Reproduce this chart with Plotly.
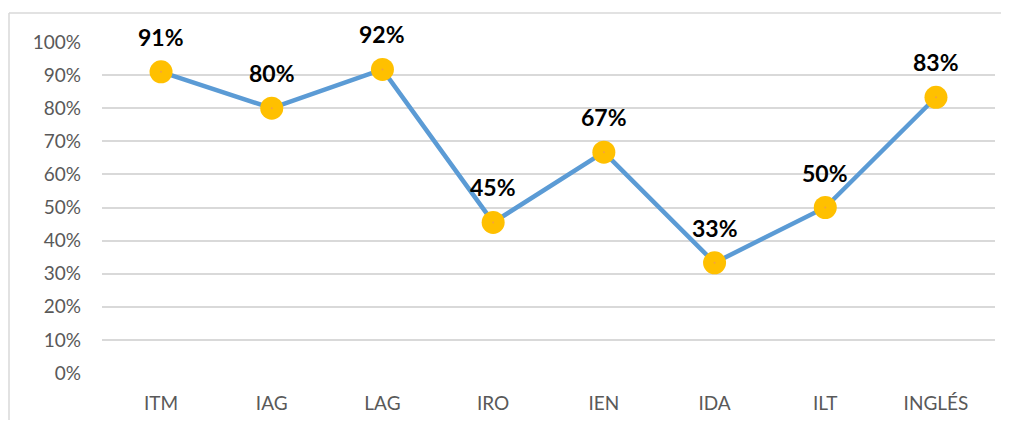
import plotly.graph_objects as go

categories = ["ITM", "IAG", "LAG", "IRO", "IEN", "IDA", "ILT", "INGLÉS"]
values = [0.91, 0.80, 0.917, 0.455, 0.667, 0.333, 0.50, 0.833]
labels = ["91%", "80%", "92%", "45%", "67%", "33%", "50%", "83%"]
y_ticks = [i / 10 for i in range(11)]
y_tick_labels = [f"{i*10}%" for i in range(11)]

# page body has an 8px margin, so the figure is offset by 8px
W, H = 993, 412
L, R, T, B = 94, 6, 34, 42

fig = go.Figure()
fig.add_trace(go.Scatter(
    x=categories, y=values, mode="lines+markers",
    line=dict(color="#5B9BD5", width=4.5),
    marker=dict(color="#FFC000", size=23, line=dict(color="#FFC000", width=0)),
    hoverinfo="skip", showlegend=False,
))
fig.add_trace(go.Scatter(
    x=categories, y=values, mode="markers",
    marker=dict(color="#F4A040", size=2),
    hoverinfo="skip", showlegend=False,
))

for c, v, t in zip(categories, values, labels):
    fig.add_annotation(x=c, y=v, text=f"<b>{t}</b>", showarrow=False,
                       yshift=35, font=dict(family="Lato, Open Sans, sans-serif", size=23, color="#000000"))

pw = W - L - R
ph = H - T - B
bx = (1 - L) / pw
by = (H - 4.5 - B) / ph
fig.add_shape(type="line", xref="paper", yref="paper",
              x0=bx, x1=(W + 20 - L) / pw, y0=by, y1=by,
              line=dict(color="#D9D9D9", width=1.5), layer="below")
fig.add_shape(type="line", xref="paper", yref="paper",
              x0=bx, x1=bx, y0=by, y1=-(B + 20) / ph,
              line=dict(color="#D9D9D9", width=1.5), layer="below")

fig.update_layout(
    width=W, height=H,
    margin=dict(l=L, r=R, t=T, b=B),
    paper_bgcolor="white", plot_bgcolor="white",
    font=dict(family="Lato, Open Sans, sans-serif", size=19, color="#595959"),
    xaxis=dict(showgrid=False, showline=False, zeroline=False, ticks="",
               ticklabelstandoff=17, tickfont=dict(size=19, color="#595959")),
    yaxis=dict(range=[0, 1], tickvals=y_ticks, ticktext=y_tick_labels,
               showgrid=True, gridcolor="#D9D9D9", gridwidth=1.5,
               zeroline=False, showline=False, ticks="",
               ticklabelstandoff=20, tickfont=dict(size=19, color="#595959")),
)

fig.write_html("out.html")
